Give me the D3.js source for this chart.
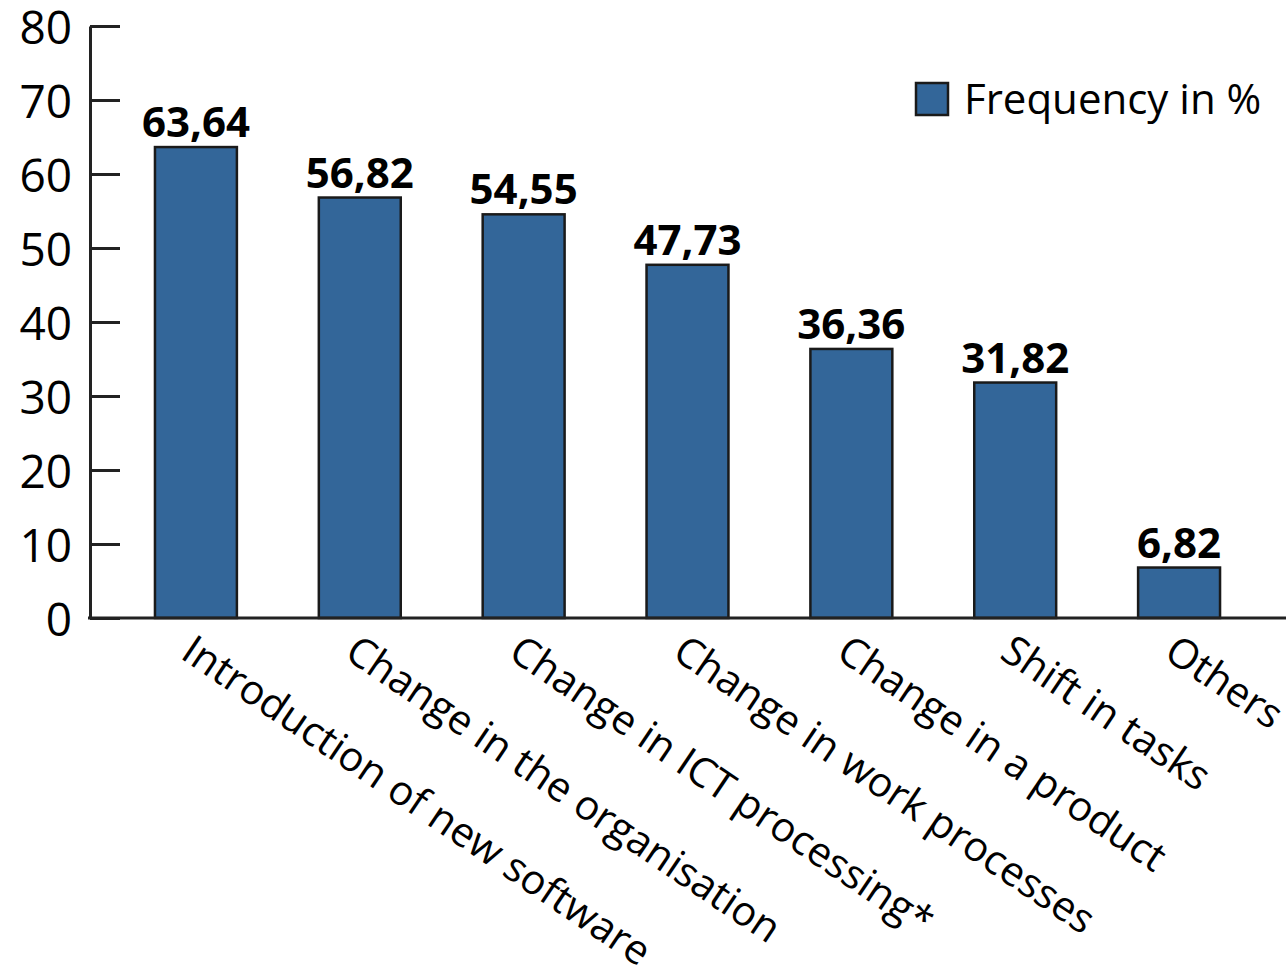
<!DOCTYPE html>
<html>
<head>
<meta charset="utf-8">
<script src="https://cdn.jsdelivr.net/npm/d3@7"></script>
<style>
  body { margin: 0; background: #fff; }
  text { font-family: "Open Sans", sans-serif; fill: #000; }
</style>
</head>
<body>
<svg id="chart" width="1286" height="975"></svg>
<script>
// Chart data
const categories = [
  'Introduction of new software',
  'Change in the organisation',
  'Change in ICT processing*',
  'Change in work processes',
  'Change in a product',
  'Shift in tasks',
  'Others'
];
const values = [63.64, 56.82, 54.55, 47.73, 36.36, 31.82, 6.82];
const valueLabels = ['63,64', '56,82', '54,55', '47,73', '36,36', '31,82', '6,82'];
const yTicks = [0, 10, 20, 30, 40, 50, 60, 70, 80];
const seriesName = 'Frequency in %';

const svg = d3.select('#chart');
const barColor = '#336699';

// Scales
const y = d3.scaleLinear().domain([0, 80]).range([618, 26]);
const x = d3.scaleBand()
  .domain(categories)
  .range([114, 1261])
  .paddingInner(0.5)
  .paddingOuter(0.25);

// Y axis, ticks point inward
const yAxis = svg.append('g')
  .attr('transform', 'translate(90,0)')
  .call(d3.axisLeft(y).tickValues(yTicks).tickSizeInner(-30).tickSizeOuter(0).tickPadding(18));
yAxis.select('.domain').attr('stroke', '#222').attr('stroke-width', 3);
yAxis.selectAll('.tick line').attr('stroke', '#222').attr('stroke-width', 3);
yAxis.selectAll('.tick text')
  .style('font-size', '46px')
  .style('font-family', '"Open Sans", sans-serif')
  .attr('fill', '#000')
  .attr('dy', '0.38em');

// Bars
svg.selectAll('rect.bar')
  .data(values)
  .enter().append('rect')
  .attr('class', 'bar')
  .attr('x', (d, i) => x(categories[i]))
  .attr('y', d => y(d))
  .attr('width', x.bandwidth())
  .attr('height', d => y(0) - y(d))
  .attr('fill', barColor)
  .attr('stroke', '#1a1a1a')
  .attr('stroke-width', 2.5);

// X axis line
svg.append('line')
  .attr('x1', 88).attr('x2', 1286)
  .attr('y1', y(0)).attr('y2', y(0))
  .attr('stroke', '#222')
  .attr('stroke-width', 3);

// Value labels
svg.selectAll('text.val')
  .data(values)
  .enter().append('text')
  .attr('class', 'val')
  .attr('x', (d, i) => x(categories[i]) + x.bandwidth() / 2)
  .attr('y', d => y(d) - 10)
  .attr('text-anchor', 'middle')
  .style('font-size', '42px')
  .style('font-weight', 'bold')
  .text((d, i) => valueLabels[i]);

// Category labels, rotated
svg.selectAll('text.cat')
  .data(categories)
  .enter().append('text')
  .attr('class', 'cat')
  .attr('transform', d => `translate(${x(d) + x.bandwidth() / 2},618) rotate(34)`)
  .attr('x', 8)
  .attr('y', 42)
  .style('font-size', '41px')
  .text(d => d);

// Legend
const legend = svg.append('g').attr('transform', 'translate(916,83)');
legend.append('rect')
  .attr('width', 32).attr('height', 32)
  .attr('fill', barColor)
  .attr('stroke', '#1a1a1a')
  .attr('stroke-width', 2.5);
legend.append('text')
  .attr('x', 48)
  .attr('y', 31)
  .style('font-size', '42px')
  .text(seriesName);
</script>
</body>
</html>
